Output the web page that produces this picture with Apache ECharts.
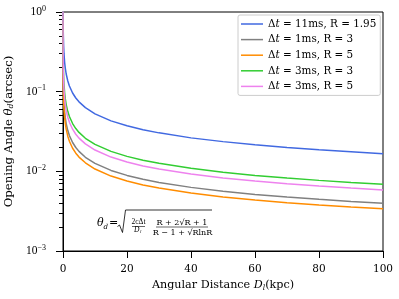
<!DOCTYPE html>
<html><head><meta charset="utf-8">
<script src="https://cdn.jsdelivr.net/npm/echarts@6/dist/echarts.min.js"></script>
<style>html,body{margin:0;padding:0;background:#fff}#c{width:399px;height:299px}</style>
</head><body><div id="c"></div>
<script>
const distances = [0.002,0.005,0.01,0.02,0.05,0.1,0.2,0.3,0.5,0.7,1,1.5,2,3,4,5,7,10,15,20,25,30,40,50,60,70,80,90,100];
const s11ms_R195 = [3.725,2.356,1.666,1.178,0.745,0.5268,0.3725,0.3042,0.2356,0.1991,0.1666,0.1360,0.1178,0.0962,0.0833,0.0745,0.0630,0.0527,0.0430,0.0373,0.0333,0.0304,0.0263,0.0236,0.0215,0.0199,0.0186,0.0176,0.01666];
const s1ms_R3 = [0.8893,0.5624,0.3977,0.2812,0.1779,0.1258,0.0889,0.0726,0.0562,0.0475,0.0398,0.0325,0.0281,0.0230,0.0199,0.0178,0.0150,0.0126,0.01027,0.00889,0.00795,0.00726,0.00629,0.00562,0.00513,0.00475,0.00445,0.00419,0.00398];
const s1ms_R5 = [0.7549,0.4774,0.3376,0.2387,0.1510,0.1068,0.0755,0.0616,0.0477,0.0403,0.0338,0.0276,0.0239,0.0195,0.0169,0.0151,0.0128,0.01068,0.00872,0.00755,0.00675,0.00616,0.00534,0.00477,0.00436,0.00403,0.00377,0.00356,0.00338];
const s3ms_R3 = [1.540,0.974,0.6888,0.4871,0.3080,0.2178,0.1540,0.1258,0.0974,0.0823,0.0689,0.0562,0.0487,0.0398,0.0344,0.0308,0.0260,0.0218,0.0178,0.0154,0.0138,0.0126,0.0109,0.00974,0.00889,0.00823,0.00770,0.00726,0.00689];
const s3ms_R5 = [1.307,0.827,0.5847,0.4134,0.2615,0.1849,0.1307,0.1068,0.0827,0.0699,0.0585,0.0477,0.0413,0.0338,0.0292,0.0261,0.0221,0.0185,0.0151,0.0131,0.0117,0.0107,0.00924,0.00827,0.00755,0.00699,0.00654,0.00616,0.00585];
const seriesNames = ['Δt = 11ms, R = 1.95','Δt = 1ms, R = 3','Δt = 1ms, R = 5','Δt = 3ms, R = 3','Δt = 3ms, R = 5'];
const seriesData = [s11ms_R195, s1ms_R3, s1ms_R5, s3ms_R3, s3ms_R5];
const colors = ['#4169e1','#808080','#ff8c00','#32cd32','#ee82ee'];
const yTickLabels = {'0.001':'−3','0.01':'−2','0.1':'−1','1':'0'};

const FONT = 'DejaVu Serif';
const chart = echarts.init(document.getElementById('c'), null, {renderer:'canvas'});
const series = seriesNames.map((n,i)=>({
  name:n, type:'line', symbol:'none', smooth:false, clip:true,
  lineStyle:{color:colors[i], width:1.5}, itemStyle:{color:colors[i]},
  data: distances.map((d,j)=>[d, seriesData[i][j]])
}));
function legendFmt(name){
  const rest = name.replace('Δt','');
  return '{n|Δ}{i|t}{n|' + rest + '}';
}
chart.setOption({
  animation:false,
  grid:{left:63, top:12, right:16, bottom:48, outerBoundsMode:'none', containLabel:false, show:true, borderColor:'#000', borderWidth:1, backgroundColor:'transparent'},
  xAxis:{type:'value', min:0, max:100, interval:20,
    axisLine:{onZero:false, lineStyle:{color:'#000', width:1}},
    axisTick:{inside:false, length:7, lineStyle:{color:'#000'}},
    axisLabel:{color:'#000', fontFamily:FONT, fontSize:10.5, margin:10, padding:[3,0,0,0]},
    splitLine:{show:false},
    name:'{n|Angular Distance }{i|D}{s|l}{n|(kpc)}', nameLocation:'middle', nameGap:28,
    nameTextStyle:{rich:{n:{fontFamily:FONT,fontSize:11.2,color:'#000'}, i:{fontFamily:FONT,fontStyle:'italic',fontSize:11.2,color:'#000'}, s:{fontFamily:FONT,fontStyle:'italic',fontSize:7.5,color:'#000',padding:[5,0,0,0]}}}
  },
  yAxis:{type:'log', logBase:10, min:0.001, max:1,
    axisLine:{lineStyle:{color:'#000', width:1}},
    axisTick:{inside:false, length:7, lineStyle:{color:'#000'}},
    minorTick:{show:true, splitNumber:9, length:4, lineStyle:{color:'#000', width:1}},
    minorSplitLine:{show:false},
    axisLabel:{color:'#000', margin:10, padding:[0,7,0,0], formatter:function(v){
        const k = String(+v.toPrecision(3)); return '{b|10}{p|' + (yTickLabels[k]||'') + '}';},
      rich:{b:{fontFamily:'Liberation Serif',fontSize:11.5,color:'#000'}, p:{fontFamily:'Liberation Serif',fontSize:8,color:'#000',padding:[0,0,7,0]}}},
    splitLine:{show:false},
    name:'{n|Opening Angle }{i|θ}{s|d}{n|(arcsec)}', nameLocation:'middle', nameGap:47,
    nameTextStyle:{rich:{n:{fontFamily:FONT,fontSize:11.7,color:'#000'}, i:{fontFamily:FONT,fontStyle:'italic',fontSize:11.7,color:'#000'}, s:{fontFamily:FONT,fontStyle:'italic',fontSize:7.8,color:'#000',padding:[5,0,0,0]}}}
  },
  legend:{data:seriesNames, orient:'vertical', left:238, top:15, padding:[3,4,3,3], itemGap:3.6, itemWidth:22, itemHeight:1.5,
    icon:'rect', borderColor:'#cccccc', borderWidth:1, borderRadius:2, backgroundColor:'#fff',
    formatter:legendFmt,
    textStyle:{lineHeight:12, rich:{n:{fontFamily:FONT,fontSize:10.4,color:'#000'}, i:{fontFamily:FONT,fontStyle:'italic',fontSize:10.4,color:'#000'}}},
    itemStyle:{borderWidth:0}},
  series: series,
  graphic:[
    {type:'text', x:97, y:223, style:{text:'θ', font:'italic 11px "DejaVu Serif"', fill:'#000', verticalAlign:'middle'}},
    {type:'text', x:103.5, y:227, style:{text:'d', font:'italic 7px "DejaVu Serif"', fill:'#000', verticalAlign:'middle'}},
    {type:'text', x:109, y:223, style:{text:'=', font:'11px "DejaVu Serif"', fill:'#000', verticalAlign:'middle'}},
    {type:'polyline', shape:{points:[[117.5,226.5],[119.5,225],[122.5,232.5],[125.5,210],[212,210]]}, style:{stroke:'#000', lineWidth:0.8, fill:null}},
    {type:'text', x:138.5, y:222.5, style:{text:'2cΔt', font:'7.5px "Liberation Serif"', fill:'#000', align:'center', verticalAlign:'middle'}},
    {type:'line', shape:{x1:132, y1:226.5, x2:145, y2:226.5}, style:{stroke:'#000', lineWidth:0.6}},
    {type:'text', x:139.5, y:230.5, style:{text:'D', font:'italic 7.5px "Liberation Serif"', fill:'#000', align:'right', verticalAlign:'middle'}},
    {type:'text', x:140, y:232, style:{text:'l', font:'italic 5px "Liberation Serif"', fill:'#000', align:'left', verticalAlign:'middle'}},
    {type:'text', x:182, y:222.5, style:{text:'R + 2√R + 1', font:'8px "DejaVu Serif"', fill:'#000', align:'center', verticalAlign:'middle'}},
    {type:'line', shape:{x1:156, y1:227, x2:208, y2:227}, style:{stroke:'#000', lineWidth:0.6}},
    {type:'text', x:182.5, y:232.5, style:{text:'R − 1 + √RlnR', font:'8px "DejaVu Serif"', fill:'#000', align:'center', verticalAlign:'middle'}}
  ]
});
</script></body></html>
